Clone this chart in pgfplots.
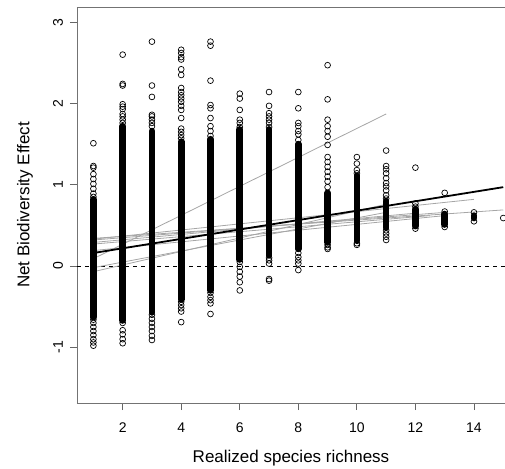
\documentclass[border=0pt]{standalone}
\usepackage{pgfplots}
\pgfplotsset{compat=1.18}
\usepackage{fontspec}
\setmainfont{Liberation Sans}
\begin{document}
\begin{tikzpicture}
\useasboundingbox (-77pt,-65pt) rectangle (428pt,403pt);
\begin{axis}[
  at={(0pt,0pt)}, anchor=south west,
  scale only axis, width=428pt, height=396pt,
  xmin=0.44, xmax=15.06, ymin=-1.685, ymax=3.186,
  axis x line=box, axis y line=left,
  axis line style={-, black!55, line width=0.9pt},
  xtick={2,4,6,8,10,12,14}, ytick={-1,0,1,2,3},
  xtick pos=bottom, ytick pos=left,
  tick style={black!60, line width=0.9pt}, major tick length=7pt, tick align=outside,
  ticklabel style={font=\fontsize{14}{16}\selectfont},
  /pgf/number format/assume math mode=true,
  xticklabel style={yshift=-9pt},
  yticklabel style={xshift=-12pt, rotate=90, anchor=center},
  xlabel={Realized species richness}, ylabel={Net Biodiversity Effect},
  every axis x label/.style={at={(axis description cs:0.5,-0.1389)}, anchor=center, font=\fontsize{17}{20}\selectfont},
  every axis y label/.style={at={(axis description cs:-0.1215,0.5)}, anchor=center, rotate=90, font=\fontsize{17}{20}\selectfont},
  clip=true,
]
% zero line
\addplot[black, line width=0.9pt, dash pattern=on 4pt off 4pt] coordinates {(0.44,0) (15.06,0)};
% per-experiment regression lines (grey)
\addplot[black!35, line width=0.8pt] coordinates {(1,0.33) (14,0.82)};
\addplot[black!35, line width=0.8pt] coordinates {(1,0.34) (15,0.69)};
\addplot[black!35, line width=0.8pt] coordinates {(1,0.32) (13,0.66)};
\addplot[black!35, line width=0.8pt] coordinates {(1,0.29) (12,0.65)};
\addplot[black!35, line width=0.8pt] coordinates {(1,0.27) (12.5,0.62)};
\addplot[black!35, line width=0.8pt] coordinates {(1,0.19) (13,0.62)};
\addplot[black!35, line width=0.8pt] coordinates {(1,0.09) (11,1.87)};
\addplot[black!35, line width=0.8pt] coordinates {(1,-0.02) (11,0.66)};
\addplot[black!35, line width=0.8pt] coordinates {(1,-0.07) (11,0.76)};
% dense point columns (ranges where circles overlap)
\addplot[black, line width=6.6pt, line cap=round, unbounded coords=jump] table[row sep=\\] {
x y\\
1 -0.63\\ 1 0.82\\ 1 nan\\
2 -0.67\\ 2 1.72\\ 2 nan\\
3 -0.57\\ 3 1.66\\ 3 nan\\
4 -0.41\\ 4 1.53\\ 4 nan\\
5 -0.30\\ 5 1.56\\ 5 nan\\
6 0.08\\ 6 1.68\\ 6 nan\\
7 0.13\\ 7 1.68\\ 7 nan\\
8 0.21\\ 8 1.50\\ 8 nan\\
9 0.29\\ 9 0.90\\ 9 nan\\
10 0.31\\ 10 1.11\\ 10 nan\\
11 0.47\\ 11 0.80\\ 11 nan\\
12 0.49\\ 12 0.70\\ 12 nan\\
13 0.51\\ 13 0.64\\ 13 nan\\
14 0.59\\ 14 0.62\\
};
% separate circles
\addplot[only marks, mark=o, mark size=2.9pt, mark options={line width=0.7pt, black}] table[row sep=\\] {
x y\\
1 1.51\\ 1 1.23\\ 1 1.21\\ 1 1.13\\ 1 1.07\\ 1 1.01\\ 1 0.95\\ 1 0.89\\ 1 0.85\\
1 -0.66\\ 1 -0.70\\ 1 -0.75\\ 1 -0.80\\ 1 -0.85\\ 1 -0.90\\ 1 -0.94\\ 1 -0.98\\
2 2.60\\ 2 2.24\\ 2 2.22\\ 2 1.99\\ 2 1.96\\ 2 1.93\\ 2 1.87\\ 2 1.84\\ 2 1.80\\ 2 1.76\\
2 -0.70\\ 2 -0.79\\ 2 -0.84\\ 2 -0.90\\ 2 -0.95\\
3 2.76\\ 3 2.22\\ 3 2.08\\ 3 1.86\\ 3 1.84\\ 3 1.80\\ 3 1.76\\ 3 1.72\\
3 -0.60\\ 3 -0.65\\ 3 -0.70\\ 3 -0.75\\ 3 -0.80\\ 3 -0.86\\ 3 -0.91\\
4 2.66\\ 4 2.62\\ 4 2.57\\ 4 2.54\\ 4 2.42\\ 4 2.35\\ 4 2.19\\ 4 2.14\\ 4 2.10\\ 4 2.06\\ 4 2.02\\ 4 1.97\\ 4 1.92\\ 4 1.82\\ 4 1.69\\ 4 1.65\\ 4 1.61\\ 4 1.57\\
4 -0.44\\ 4 -0.48\\ 4 -0.52\\ 4 -0.56\\ 4 -0.69\\
5 2.76\\ 5 2.71\\ 5 2.28\\ 5 1.98\\ 5 1.94\\ 5 1.82\\ 5 1.72\\ 5 1.66\\ 5 1.60\\
5 -0.33\\ 5 -0.38\\ 5 -0.42\\ 5 -0.46\\ 5 -0.59\\
6 2.12\\ 6 2.06\\ 6 1.92\\ 6 1.80\\ 6 1.76\\ 6 1.71\\
6 0.05\\ 6 -0.01\\ 6 -0.07\\ 6 -0.13\\ 6 -0.20\\ 6 -0.30\\
7 2.14\\ 7 1.97\\ 7 1.88\\ 7 1.84\\ 7 1.80\\ 7 1.76\\ 7 1.71\\
7 0.10\\ 7 0.07\\ 7 0.03\\ 7 -0.16\\ 7 -0.18\\
8 2.14\\ 8 1.94\\ 8 1.76\\ 8 1.72\\ 8 1.66\\ 8 1.62\\ 8 1.55\\
8 0.16\\ 8 0.11\\ 8 0.07\\ 8 0.03\\ 8 -0.05\\
9 2.47\\ 9 2.05\\ 9 1.80\\ 9 1.72\\ 9 1.66\\ 9 1.59\\ 9 1.49\\ 9 1.34\\ 9 1.28\\ 9 1.22\\ 9 1.16\\ 9 1.10\\ 9 1.04\\ 9 0.97\\
9 0.26\\ 9 0.23\\ 9 0.21\\
10 1.34\\ 10 1.26\\ 10 1.18\\ 10 1.14\\
10 0.28\\ 10 0.26\\
11 1.42\\ 11 1.23\\ 11 1.19\\ 11 1.14\\ 11 1.08\\ 11 1.02\\ 11 0.98\\ 11 0.93\\ 11 0.87\\ 11 0.83\\
11 0.44\\ 11 0.40\\ 11 0.36\\ 11 0.32\\
12 1.21\\ 12 0.77\\ 12 0.73\\ 12 0.46\\
13 0.90\\ 13 0.67\\ 13 0.48\\
14 0.66\\ 14 0.55\\
15 0.59\\
};
% overall regression line
\addplot[black, line width=1.8pt] coordinates {(1,0.16) (15,0.97)};
\end{axis}
\end{tikzpicture}
\end{document}
